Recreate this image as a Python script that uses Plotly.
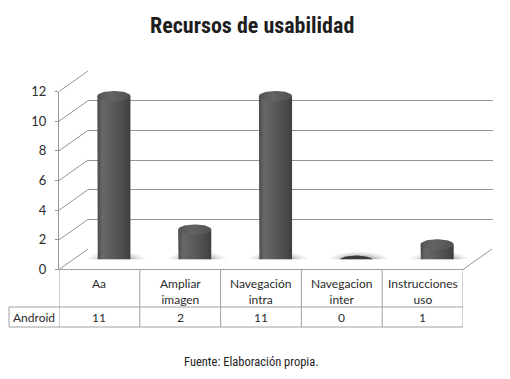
import numpy as np
import plotly.graph_objects as go

# ---------------- data ----------------
categories = ["Aa", "Ampliar<br>imagen", "Navegación<br>intra", "Navegacion<br>inter", "Instrucciones<br>uso"]
series_name = "Android"
values = [11, 2, 11, 0, 1]
y_ticks = [0, 2, 4, 6, 8, 10, 12]
title_text = "Recursos de usabilidad"
source_text = "Fuente: Elaboración propia."

# ---------------- geometry helpers ----------------
# the page is shown with an 8px body margin, so the figure is 494x363 placed at (8, 8)
OFF = 8
W, H = 510 - 2 * OFF, 379 - 2 * OFF
def px(x):
    return (x - OFF) / W
def py(y):
    return 1 - (y - OFF) / H

FL, FR = 59, 463            # front floor left/right (picture pixels)
FY0, FY12 = 269.5, 91.5     # front y for 0 and 12
DX, DY = 29, -20.5          # depth offset of back wall
YMAX = 12
unit = (FY0 - FY12) / YMAX

GRID = "#959595"
TXT = "#2b2b2b"
LABEL_FONT = "Lato, 'Open Sans', sans-serif"
NARROW = "'Roboto Condensed', 'Liberation Sans Narrow', sans-serif"

fig = go.Figure()

# back wall (xy) : gridlines through axis
fig.add_trace(go.Scatter(x=[None], y=[None], xaxis="x", yaxis="y", showlegend=False, hoverinfo="skip"))
# front axis (x2y2)
fig.add_trace(go.Scatter(x=[None], y=[None], xaxis="x2", yaxis="y2", showlegend=False, hoverinfo="skip"))

# cylinders (x3y3)
w = 0.205         # half width in category units
ry = 0.35         # ellipse half height in value units
t_full = np.linspace(0, 2 * np.pi, 60)
t_bot = np.linspace(np.pi, 2 * np.pi, 30)

for i, v in enumerate(values):
    # soft shadow
    for sx, sy, a in [(1.75, 0.55, 0.06), (1.45, 0.44, 0.08), (1.2, 0.36, 0.11)]:
        fig.add_trace(go.Scatter(
            x=i + 0.03 + w * sx * np.cos(t_full), y=-0.05 + sy * np.sin(t_full),
            mode="lines", line=dict(width=0), fill="toself",
            fillcolor=f"rgba(0,0,0,{a})", xaxis="x3", yaxis="y3",
            showlegend=False, hoverinfo="skip"))
    if v > 0:
        bx = np.concatenate([[i - w], i + w * np.cos(t_bot), [i + w, i - w]])
        by = np.concatenate([[v], ry * np.sin(t_bot), [v, v]])
        fig.add_trace(go.Scatter(
            x=bx, y=by, mode="lines", line=dict(width=0), fill="toself",
            fillgradient=dict(type="horizontal",
                              colorscale=[[0, "#4a4a4a"], [0.15, "#676767"], [0.4, "#5e5e5e"],
                                          [0.8, "#4b4b4b"], [1, "#3e3e3e"]]),
            xaxis="x3", yaxis="y3", showlegend=False, hoverinfo="skip"))
        fig.add_trace(go.Scatter(
            x=i + w * np.cos(t_full), y=v + ry * np.sin(t_full),
            mode="lines", line=dict(width=0), fill="toself",
            fillgradient=dict(type="horizontal",
                              colorscale=[[0, "#545454"], [0.4, "#646464"], [1, "#525252"]]),
            xaxis="x3", yaxis="y3", showlegend=False, hoverinfo="skip"))
    else:
        fig.add_trace(go.Scatter(
            x=i + w * 1.0 * np.cos(t_full), y=-0.05 + ry * 0.85 * np.sin(t_full),
            mode="lines", line=dict(width=0), fill="toself", fillcolor="#3a3a3a",
            xaxis="x3", yaxis="y3", showlegend=False, hoverinfo="skip"))

shapes = []
# left wall diagonals
for t in y_ticks:
    yf = FY0 - t * unit
    shapes.append(dict(type="line", xref="paper", yref="paper",
                       x0=px(FL), y0=py(yf), x1=px(FL + DX), y1=py(yf + DY),
                       line=dict(color=GRID, width=1), layer="below"))
# floor right diagonal
shapes.append(dict(type="line", xref="paper", yref="paper",
                   x0=px(FR), y0=py(FY0), x1=px(FR + DX), y1=py(FY0 + DY),
                   line=dict(color=GRID, width=1), layer="below"))

# ---------------- data table ----------------
ROW1_TOP, ROW2_TOP, ROW2_BOT = FY0, 307, 327
TABLE_LEFT = 9
BORDER = "#a0a0a0"
shapes.append(dict(type="line", xref="paper", yref="paper", x0=px(FL), x1=px(FR),
                   y0=py(ROW1_TOP), y1=py(ROW1_TOP), line=dict(color=BORDER, width=1)))
for yy in (ROW2_TOP, ROW2_BOT):
    shapes.append(dict(type="line", xref="paper", yref="paper", x0=px(TABLE_LEFT), x1=px(FR),
                       y0=py(yy), y1=py(yy), line=dict(color=BORDER, width=1)))
shapes.append(dict(type="line", xref="paper", yref="paper", x0=px(TABLE_LEFT), x1=px(TABLE_LEFT),
                   y0=py(ROW2_TOP), y1=py(ROW2_BOT), line=dict(color=BORDER, width=1)))
for k in range(len(categories) + 1):
    shapes.append(dict(type="line", xref="x2", yref="paper", x0=k - 0.5, x1=k - 0.5,
                       y0=py(ROW1_TOP), y1=py(ROW2_BOT), line=dict(color=BORDER, width=1)))

annotations = []
for i, (c, v) in enumerate(zip(categories, values)):
    annotations.append(dict(x=i, y=py(274), xref="x2", yref="paper", text=c, showarrow=False,
                            xanchor="center", yanchor="top", align="center",
                            font=dict(family=LABEL_FONT, size=12, color=TXT)))
    annotations.append(dict(x=i, y=py(317.5), xref="x2", yref="paper", text=str(v), showarrow=False,
                            xanchor="center", yanchor="middle",
                            font=dict(family=LABEL_FONT, size=12, color=TXT)))
annotations.append(dict(x=px((TABLE_LEFT + FL) / 2), y=py(317.5), xref="paper", yref="paper",
                        text=series_name, showarrow=False, xanchor="center", yanchor="middle",
                        font=dict(family=LABEL_FONT, size=12, color=TXT)))
annotations.append(dict(x=px(252), y=py(25), xref="paper", yref="paper", text=f"<b>{title_text}</b>",
                        showarrow=False, xanchor="center", yanchor="middle",
                        font=dict(family=NARROW, size=22, color="#1e1e1e")))
annotations.append(dict(x=px(251), y=py(361), xref="paper", yref="paper", text=source_text,
                        showarrow=False, xanchor="center", yanchor="middle",
                        font=dict(family=NARROW, size=12.5, color="#1e1e1e")))

hidden_x = dict(showgrid=False, zeroline=False, showticklabels=False, showline=False, ticks="", fixedrange=True)

fig.update_layout(
    width=W, height=H,
    margin=dict(l=0, r=0, t=0, b=0, autoexpand=False),
    paper_bgcolor="white", plot_bgcolor="rgba(0,0,0,0)",
    showlegend=False,
    # back wall
    xaxis=dict(domain=[px(FL + DX), px(FR + DX + 0.5)], range=[0, 1], **hidden_x),
    yaxis=dict(domain=[py(FY0 + DY), py(FY12 + DY)], range=[0, YMAX], tickvals=y_ticks,
               showgrid=True, gridcolor=GRID, gridwidth=1, zeroline=False, showticklabels=False,
               showline=False, ticks="", fixedrange=True, anchor="x"),
    # front axis
    xaxis2=dict(domain=[px(FL), px(FR)], range=[-0.5, len(categories) - 0.5], anchor="y2", **hidden_x),
    yaxis2=dict(domain=[py(FY0), py(FY12)], range=[0, YMAX], tickvals=y_ticks,
                showgrid=False, zeroline=False, showline=True, linecolor=GRID, linewidth=1,
                ticks="outside", ticklen=3, tickcolor=GRID, ticklabelstandoff=6,
                tickfont=dict(family=LABEL_FONT, size=13, color=TXT), anchor="x2", fixedrange=True),
    # bars
    xaxis3=dict(domain=[px(FL + DX / 2), px(FR + DX / 2)], range=[-0.5, len(categories) - 0.5],
                anchor="y3", **hidden_x),
    yaxis3=dict(domain=[py(FY0 + DY / 2), py(FY12 + DY / 2)], range=[0, YMAX],
                anchor="x3", **hidden_x),
    shapes=shapes,
    annotations=annotations,
)

fig.write_html("out.html")
